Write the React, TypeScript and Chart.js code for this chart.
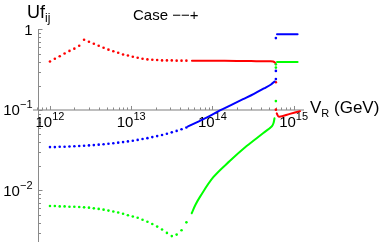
import React, { useEffect, useRef } from "react";
import { Chart, registerables } from "chart.js";

Chart.register(...registerables);

// ---------- data ----------
// sparse (dotted) sampling grid, V_R in GeV
const V_GRID = [
  1.0e12, 1.148e12, 1.318e12, 1.514e12, 1.738e12, 1.995e12, 2.291e12, 2.63e12, 3.02e12, 3.467e12,
  3.981e12, 4.571e12, 5.248e12, 6.026e12, 6.918e12, 7.943e12, 9.12e12, 1.047e13, 1.202e13, 1.38e13,
  1.585e13, 1.82e13, 2.089e13, 2.399e13, 2.754e13, 3.162e13, 3.631e13, 4.169e13, 4.786e13,
];
const RED_DOTS = [
  0.401, 0.433, 0.466, 0.503, 0.542, 0.578, 0.629, 0.745, 0.704, 0.665, 0.629, 0.594, 0.562, 0.536,
  0.513, 0.489, 0.475, 0.458, 0.445, 0.433, 0.425, 0.421, 0.417, 0.413, 0.413, 0.413, 0.41, 0.41, 0.41,
];
const BLUE_DOTS = [
  0.0346, 0.0346, 0.0349, 0.0349, 0.0352, 0.0354, 0.0357, 0.0359, 0.0363, 0.0366, 0.0371, 0.0375,
  0.038, 0.0386, 0.0393, 0.0399, 0.0407, 0.0415, 0.0425, 0.0436, 0.0447, 0.046, 0.0474, 0.0489,
  0.0507, 0.0527, 0.055, 0.0577, 0.0607,
];
const GREEN_DOTS = [
  0.00642, 0.00642, 0.00634, 0.00634, 0.00629, 0.00629, 0.00624, 0.00617, 0.00612, 0.006, 0.0059,
  0.00578, 0.00562, 0.00547, 0.00532, 0.00513, 0.00493, 0.00475, 0.00458, 0.00433, 0.00409, 0.00383,
  0.00356, 0.00327, 0.00297, 0.00271, 0.00283, 0.00321, 0.00402,
];

// dense (solid) part before the transition
const RED_LINE_V = [5.6e13, 1.0e14, 2.0e14, 3.0e14, 4.0e14, 5.0e14, 5.6e14, 5.9e14];
const RED_LINE = [0.41, 0.409, 0.407, 0.405, 0.403, 0.402, 0.4, 0.388];
const BLUE_LINE_V = [5.01e13, 7.03e13, 9.33e13, 1.276e14, 1.742e14, 2.382e14, 3.25e14, 4.32e14, 5.27e14, 5.82e14];
const BLUE_LINE = [0.0624, 0.0734, 0.0845, 0.1, 0.1167, 0.1362, 0.159, 0.1855, 0.2075, 0.226];
const GREEN_LINE_V = [5.56e13, 6.19e13, 7.03e13, 1.026e14, 1.648e14, 2.64e14, 4.24e14, 5.37e14, 5.65e14, 5.82e14];
const GREEN_LINE = [0.00521, 0.00665, 0.00833, 0.01462, 0.02336, 0.0356, 0.0517, 0.0624, 0.0685, 0.0788];

// isolated points at the transition
const JUMP_V = 6.05e14;
const RED_JUMP = [0.221, 0.101];
const BLUE_JUMP = [0.242, 0.306, 0.782];
const GREEN_JUMP = [0.129, 0.336, 0.369];

// after the transition
const RED_AFTER_V = [6.2e14, 6.6e14, 9.0e14, 1.2e15];
const RED_AFTER = [0.0906, 0.0826, 0.0894, 0.0967];
const BLUE_AFTER_V = [6.25e14, 1.12e15];
const BLUE_AFTER = [0.874, 0.874];
const GREEN_AFTER_V = [6.25e14, 1.12e15];
const GREEN_AFTER = [0.394, 0.394];

// axes
const X_MIN = 6.18e11;
const X_MAX = 1.343e15;
const Y_MIN = 0.00229;
const Y_MAX = 1.014;
const X_CROSS = 7.11e11;
const Y_CROSS = 0.1;
const X_TICK_EXPS = [12, 13, 14, 15];
const Y_TICK_EXPS = [-2, -1, 0];

const RED = "rgb(255,0,0)";
const BLUE = "rgb(0,0,255)";
const GREEN = "rgb(0,255,0)";
const FONT = '"Liberation Sans", Arial, Helvetica, sans-serif';

const zip = (xs: number[], ys: number[]) => xs.map((x, i) => ({ x, y: ys[i] }));
const same = (x: number, ys: number[]) => ys.map((y) => ({ x, y }));

function dots(data: { x: number; y: number }[], color: string) {
  return {
    data,
    showLine: false,
    pointRadius: 1.3,
    pointBorderWidth: 0,
    pointBackgroundColor: color,
    borderColor: color,
    backgroundColor: color,
  };
}
function line(data: { x: number; y: number }[], color: string) {
  return {
    data,
    showLine: true,
    pointRadius: 0,
    borderWidth: 2,
    borderColor: color,
    backgroundColor: color,
    tension: 0.35,
    fill: false,
  };
}

const sup = (n: number) => (n < 0 ? "\u2212" + Math.abs(n) : String(n));

function drawPow(ctx: CanvasRenderingContext2D, x: number, base: number, exp: string, align: "center" | "right") {
  ctx.font = `15px ${FONT}`;
  const w1 = ctx.measureText("10").width;
  ctx.font = `11px ${FONT}`;
  const w2 = ctx.measureText(exp).width;
  const left = align === "center" ? x - (w1 + w2) / 2 : x - (w1 + w2);
  ctx.textAlign = "left";
  ctx.textBaseline = "alphabetic";
  ctx.font = `15px ${FONT}`;
  ctx.fillText("10", left, base);
  ctx.font = `11px ${FONT}`;
  ctx.fillText(exp, left + w1, base - 7);
}

const axesPlugin = {
  id: "mmaAxes",
  beforeDatasetsDraw(chart: any) {
    const { ctx, chartArea: a } = chart;
    const xs = chart.scales.x;
    const ys = chart.scales.y;
    const y0 = ys.getPixelForValue(Y_CROSS);
    const x0 = Math.round(xs.getPixelForValue(X_CROSS)) + 0.5;
    ctx.save();
    ctx.strokeStyle = "#a8a8a8";
    ctx.lineWidth = 1.5;
    ctx.beginPath();
    ctx.moveTo(a.left, y0);
    ctx.lineTo(a.right, y0);
    ctx.stroke();
    ctx.strokeStyle = "#8a8a8a";
    ctx.lineWidth = 1;
    ctx.beginPath();
    ctx.moveTo(x0, a.top);
    ctx.lineTo(x0, a.bottom);
    ctx.stroke();

    // x ticks
    ctx.strokeStyle = "#8a8a8a";
    for (let e = 11; e <= 15; e++) {
      for (let m = 1; m <= 9; m++) {
        const v = m * Math.pow(10, e);
        if (v < X_MIN || v > X_MAX) continue;
        const px = Math.round(xs.getPixelForValue(v)) + 0.5;
        const len = m === 1 ? 4 : 2.5;
        ctx.beginPath();
        ctx.moveTo(px, y0);
        ctx.lineTo(px, y0 - len);
        ctx.stroke();
      }
    }
    // y ticks
    for (let e = -3; e <= 0; e++) {
      for (let m = 1; m <= 9; m++) {
        const v = m * Math.pow(10, e);
        if (v < Y_MIN || v > Y_MAX) continue;
        const py = Math.round(ys.getPixelForValue(v)) + 0.5;
        const len = m === 1 ? 4 : 2.5;
        ctx.beginPath();
        ctx.moveTo(x0, py);
        ctx.lineTo(x0 + len, py);
        ctx.stroke();
      }
    }

    ctx.fillStyle = "#000";
    // x tick labels
    for (const e of X_TICK_EXPS) {
      const px = xs.getPixelForValue(Math.pow(10, e));
      drawPow(ctx, px, y0 + 17, sup(e), "center");
    }
    // y tick labels
    for (const e of Y_TICK_EXPS) {
      const py = ys.getPixelForValue(Math.pow(10, e));
      if (e === 0) {
        ctx.font = `15px ${FONT}`;
        ctx.textAlign = "right";
        ctx.textBaseline = "alphabetic";
        ctx.fillText("1", x0 - 6, py + 5.5);
      } else {
        drawPow(ctx, x0 - 6, py + 5.5, sup(e), "right");
      }
    }

    // axis labels and title
    ctx.textAlign = "left";
    ctx.textBaseline = "alphabetic";
    ctx.font = `18px ${FONT}`;
    ctx.fillText("Uf", 27, 18);
    const wUf = ctx.measureText("Uf").width;
    ctx.font = `12px ${FONT}`;
    ctx.fillText("ij", 27 + wUf, 22);

    ctx.font = `15px ${FONT}`;
    ctx.fillText("Case \u2212\u2212+", 133, 20);

    ctx.font = `17px ${FONT}`;
    ctx.fillText("V", 310, y0 + 3);
    const wV = ctx.measureText("V").width;
    ctx.font = `11px ${FONT}`;
    ctx.fillText("R", 310 + wV, y0 + 7);
    const wR = ctx.measureText("R").width;
    ctx.font = `17px ${FONT}`;
    ctx.fillText(" (GeV)", 310 + wV + wR, y0 + 3);
    ctx.restore();
  },
};

export default function App() {
  const ref = useRef<HTMLCanvasElement | null>(null);
  useEffect(() => {
    document.body.style.margin = "0";
    const canvas = ref.current;
    if (!canvas) return;
    const chart = new Chart(canvas, {
      type: "scatter",
      data: {
        datasets: [
          dots(zip(V_GRID, RED_DOTS), RED),
          dots(zip(V_GRID, BLUE_DOTS), BLUE),
          dots(zip(V_GRID, GREEN_DOTS), GREEN),
          line(zip(RED_LINE_V, RED_LINE), RED),
          line(zip(BLUE_LINE_V, BLUE_LINE), BLUE),
          line(zip(GREEN_LINE_V, GREEN_LINE), GREEN),
          dots(same(JUMP_V, RED_JUMP), RED),
          dots(same(JUMP_V, BLUE_JUMP), BLUE),
          dots(same(JUMP_V, GREEN_JUMP), GREEN),
          line(zip(RED_AFTER_V, RED_AFTER), RED),
          line(zip(BLUE_AFTER_V, BLUE_AFTER), BLUE),
          line(zip(GREEN_AFTER_V, GREEN_AFTER), GREEN),
        ] as any,
      },
      options: {
        animation: false,
        responsive: false,
        maintainAspectRatio: false,
        devicePixelRatio: 1,
        layout: { padding: { left: 33, right: 83, top: 29, bottom: 0 } },
        plugins: { legend: { display: false }, tooltip: { enabled: false }, title: { display: false } },
        scales: {
          x: { type: "logarithmic", min: X_MIN, max: X_MAX, display: false },
          y: { type: "logarithmic", min: Y_MIN, max: Y_MAX, display: false },
        },
        elements: { line: { borderCapStyle: "round" } },
      } as any,
      plugins: [axesPlugin],
    });
    return () => chart.destroy();
  }, []);
  return (
    <div style={{ position: "absolute", left: 0, top: 0, width: 387, height: 246, background: "#fff" }}>
      <canvas ref={ref} width={387} height={246} style={{ display: "block", width: 387, height: 246 }} />
    </div>
  );
}
